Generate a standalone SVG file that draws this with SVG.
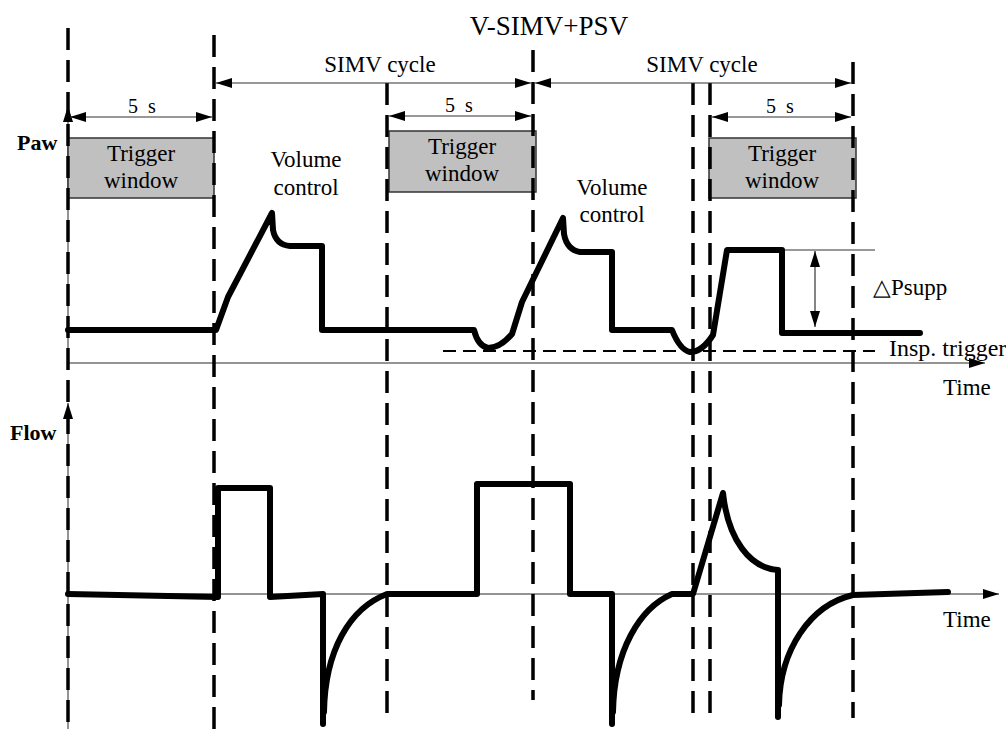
<svg xmlns="http://www.w3.org/2000/svg" width="1006" height="729" viewBox="0 0 1006 729" font-family="'Liberation Serif', 'Times New Roman', serif">
<style>
.t{font-size:23px}
.s{font-size:20px}
.b{font-size:22px;font-weight:bold}
.ax{stroke:#707070;stroke-width:1.5;fill:none}
.vd{stroke:#000;stroke-width:3.5;stroke-dasharray:22 10;fill:none}
.hd{stroke:#000;stroke-width:2;stroke-dasharray:13 7;fill:none}
.dim{stroke:#333;stroke-width:1.2;fill:none}
.w{stroke:#000;stroke-width:6;fill:none;stroke-linejoin:round;stroke-linecap:round}
.win{fill:#c0c0c0;stroke:#333;stroke-width:1.5}
</style>
<defs>
<marker id="ah" viewBox="0 0 16 10" refX="16" refY="5" markerWidth="16" markerHeight="10" markerUnits="userSpaceOnUse" orient="auto-start-reverse">
<path d="M0,0 L16,5 L0,10 z" fill="#000"/>
</marker>
</defs>
<rect width="1006" height="729" fill="#fff"/>

<g id="axes">
<line class="ax" x1="68" y1="363" x2="68" y2="106" marker-end="url(#ah)"/>
<line class="ax" x1="68" y1="363" x2="985" y2="363" marker-end="url(#ah)"/>
<line class="ax" x1="68" y1="729" x2="68" y2="403" marker-end="url(#ah)"/>
<line class="ax" x1="68" y1="594" x2="999" y2="594" marker-end="url(#ah)"/>
<text class="b" x="17" y="150" font-family="'Liberation Serif', serif">Paw</text>
<text class="b" x="10" y="440" font-family="'Liberation Serif', serif">Flow</text>
<text class="t" x="943" y="395" font-family="'Liberation Serif', serif">Time</text>
<text class="t" x="943" y="627" font-family="'Liberation Serif', serif">Time</text>
</g>

<g id="title"><text x="549" y="35" font-size="27" text-anchor="middle" font-family="'Liberation Serif', serif">V-SIMV+PSV</text></g>

<g id="windows" font-family="'Liberation Serif', serif">
<g id="win1"><rect class="win" x="68" y="138" width="146" height="60"/><text class="t" x="141" y="161" text-anchor="middle">Trigger</text><text class="t" x="141" y="188" text-anchor="middle">window</text></g>
<g id="win2"><rect class="win" x="389" y="131" width="147" height="61"/><text class="t" x="462" y="154" text-anchor="middle">Trigger</text><text class="t" x="462" y="181" text-anchor="middle">window</text></g>
<g id="win3"><rect class="win" x="709" y="138" width="147" height="60"/><text class="t" x="782" y="161" text-anchor="middle">Trigger</text><text class="t" x="782" y="188" text-anchor="middle">window</text></g>
</g>

<g id="markers">
<line class="vd" x1="68" y1="28" x2="68" y2="729"/>
<line class="vd" x1="214" y1="35" x2="214" y2="729"/>
<line class="vd" x1="387" y1="83" x2="387" y2="715"/>
<line class="vd" x1="533" y1="50" x2="533" y2="700"/>
<line class="vd" x1="693" y1="83" x2="693" y2="715"/>
<line class="vd" x1="710" y1="83" x2="710" y2="715"/>
<line class="vd" x1="853" y1="62" x2="853" y2="718"/>
<line class="hd" x1="443" y1="351" x2="875" y2="351"/>
</g>

<g id="connectors">
<line class="dim" x1="216" y1="83" x2="531" y2="83" marker-start="url(#ah)" marker-end="url(#ah)"/>
<line class="dim" x1="535" y1="83" x2="851" y2="83" marker-start="url(#ah)" marker-end="url(#ah)"/>
<line class="dim" x1="70" y1="117" x2="212" y2="117" marker-start="url(#ah)" marker-end="url(#ah)"/>
<line class="dim" x1="389" y1="116" x2="531" y2="116" marker-start="url(#ah)" marker-end="url(#ah)"/>
<line class="dim" x1="712" y1="117" x2="851" y2="117" marker-start="url(#ah)" marker-end="url(#ah)"/>
<line class="dim" x1="782" y1="250" x2="875" y2="250"/>
<line class="dim" x1="815" y1="251" x2="815" y2="327" marker-start="url(#ah)" marker-end="url(#ah)"/>
</g>

<g id="labels" font-family="'Liberation Serif', serif">
<text class="t" x="380" y="72" text-anchor="middle">SIMV cycle</text>
<text class="t" x="702" y="72" text-anchor="middle">SIMV cycle</text>
<text class="s" x="128" y="113">5<tspan dx="10">s</tspan></text>
<text class="s" x="445" y="112">5<tspan dx="10">s</tspan></text>
<text class="s" x="766" y="113">5<tspan dx="10">s</tspan></text>
<text class="t" x="306" y="167" text-anchor="middle">Volume</text>
<text class="t" x="306" y="195" text-anchor="middle">control</text>
<text class="t" x="612" y="195" text-anchor="middle">Volume</text>
<text class="t" x="612" y="222" text-anchor="middle">control</text>
<text class="t" x="873" y="295">△Psupp</text>
<text x="889" y="356" font-size="24">Insp. trigger</text>
</g>

<g id="paw">
<path class="w" d="M68,330 L216,330 L228,297 L272,213 L273,230 Q276,245 290,246 L322,246 L322,330 L474,330 Q478,346 488,348 Q500,348 512,334 L522,302 L563,218 L564,234 Q567,250 580,252 L612,252 L612,330 L672,330 Q680,350 690,352 Q702,352 713,335 L727,250 L782,250 L782,333 L920,333"/>
</g>

<g id="flow">
<path class="w" d="M68,594 L218,597 L218,488 L270,488 L270,597 L323,594 L323,724"/>
<path class="w" d="M324,712 C325,650 350,608 387,594 L477,594 L477,484 L570,484 L570,594 L612,594 L612,724"/>
<path class="w" d="M613,712 C614,650 640,608 672,594 L693,594 L723,493 C728,540 750,568 778,570 L778,717"/>
<path class="w" d="M779,705 C780,650 810,605 853,595 L948,592"/>
</g>
</svg>
